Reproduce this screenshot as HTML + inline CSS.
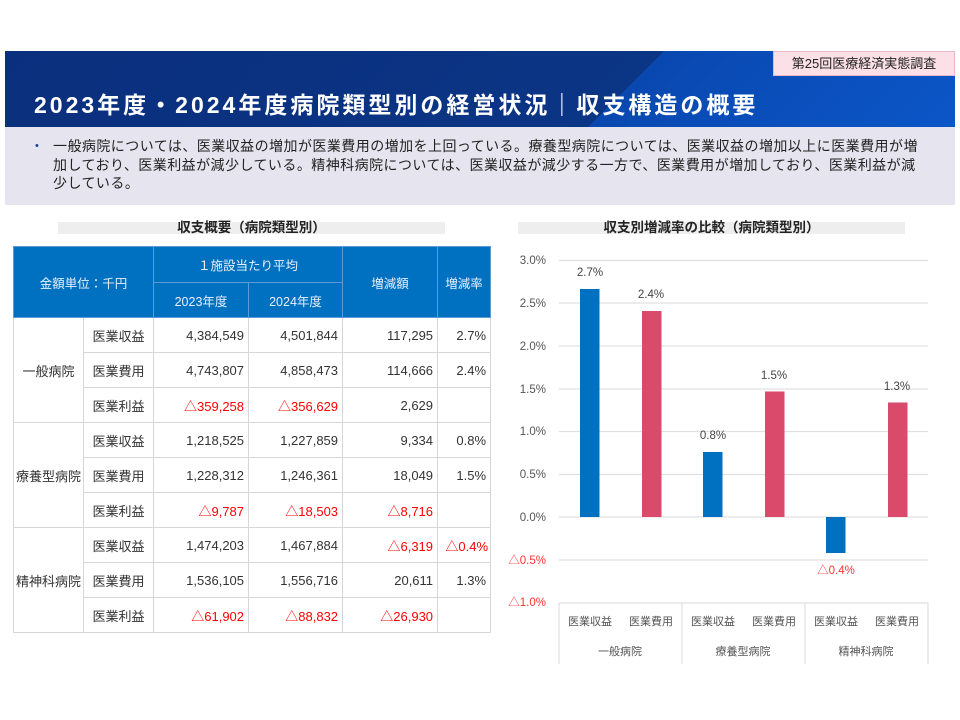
<!DOCTYPE html>
<html><head><meta charset="utf-8"><style>
*{margin:0;padding:0;box-sizing:border-box}
body{width:960px;height:720px;background:#fff;position:relative;overflow:hidden;font-family:"Liberation Sans","Noto Sans CJK JP",sans-serif;color:#333}
.hdr{position:absolute;left:5px;top:51px;width:950px;height:76px;background:linear-gradient(135deg,#0a2f7d 0%,#0b3585 64.2%,#0a48b0 64.3%,#0b56c8 100%)}
.ttl{position:absolute;left:34px;top:86px;font-size:23px;font-weight:bold;color:#fff;letter-spacing:3px;white-space:nowrap}
.badge{position:absolute;left:773px;top:51px;width:182px;height:25px;background:#fbe1e7;border:1px solid #e8b8c4;font-size:13px;color:#222;text-align:center;line-height:24px}
.sum{position:absolute;left:5px;top:127px;width:950px;height:78px;background:#e6e5ef;font-size:14px;letter-spacing:0.45px;line-height:18.5px;color:#222;padding:10px 0 0 48px;white-space:nowrap}
.sum:before{content:"•";position:absolute;left:30px;top:10px;color:#1a3f8f;font-size:11px}
.bar{position:absolute;top:222px;height:12px;background:#eeeeee}
.st{position:absolute;top:216px;font-size:13.5px;font-weight:bold;color:#222;text-align:center;width:387px}
table{position:absolute;left:13px;top:246px;border-collapse:collapse;font-size:13px;table-layout:fixed;width:477px}
td{border:1px solid #d6d6d6;height:35px;padding:0 4px;text-align:right;color:#333;white-space:nowrap}
.h td{background:#0070c0;color:#e8f0ff;border:1px solid #5b9bd5;text-align:center;font-size:12.5px}
.c{text-align:center!important;padding:0!important}
.r{color:#f00}
</style></head><body>
<div class="hdr"></div>
<div class="ttl">2023年度・2024年度病院類型別の経営状況｜収支構造の概要</div>
<div class="badge">第25回医療経済実態調査</div>
<div class="sum">一般病院については、医業収益の増加が医業費用の増加を上回っている。療養型病院については、医業収益の増加以上に医業費用が増<br>加しており、医業利益が減少している。精神科病院については、医業収益が減少する一方で、医業費用が増加しており、医業利益が減<br>少している。</div>
<div class="bar" style="left:58px;width:387px"></div>
<div class="bar" style="left:518px;width:387px"></div>
<div class="st" style="left:58px">収支概要（病院類型別）</div>
<div class="st" style="left:518px">収支別増減率の比較（病院類型別）</div>
<table>
<colgroup><col style="width:70px"><col style="width:70px"><col style="width:95px"><col style="width:94px"><col style="width:95px"><col style="width:53px"></colgroup>
<tr class="h"><td colspan="2" rowspan="2" style="height:70px">金額単位：千円</td><td colspan="2" style="height:36px">１施設当たり平均</td><td rowspan="2">増減額</td><td rowspan="2">増減率</td></tr>
<tr class="h"><td style="height:34px">2023年度</td><td>2024年度</td></tr>
<tr><td rowspan="3" class="c">一般病院</td><td class="c">医業収益</td><td>4,384,549</td><td>4,501,844</td><td>117,295</td><td>2.7%</td></tr>
<tr><td class="c">医業費用</td><td>4,743,807</td><td>4,858,473</td><td>114,666</td><td>2.4%</td></tr>
<tr><td class="c">医業利益</td><td class="r">△359,258</td><td class="r">△356,629</td><td>2,629</td><td></td></tr>
<tr><td rowspan="3" class="c">療養型病院</td><td class="c">医業収益</td><td>1,218,525</td><td>1,227,859</td><td>9,334</td><td>0.8%</td></tr>
<tr><td class="c">医業費用</td><td>1,228,312</td><td>1,246,361</td><td>18,049</td><td>1.5%</td></tr>
<tr><td class="c">医業利益</td><td class="r">△9,787</td><td class="r">△18,503</td><td class="r">△8,716</td><td></td></tr>
<tr><td rowspan="3" class="c">精神科病院</td><td class="c">医業収益</td><td>1,474,203</td><td>1,467,884</td><td class="r">△6,319</td><td class="r" style="padding:0 2px">△0.4%</td></tr>
<tr><td class="c">医業費用</td><td>1,536,105</td><td>1,556,716</td><td>20,611</td><td>1.3%</td></tr>
<tr><td class="c">医業利益</td><td class="r">△61,902</td><td class="r">△88,832</td><td class="r">△26,930</td><td></td></tr>
</table>
<svg style="position:absolute;left:0;top:0" width="960" height="720" font-family="Liberation Sans, Noto Sans CJK JP, sans-serif" font-size="11.5">
<g stroke="#e0e0e0" stroke-width="1.2">
<line x1="559" x2="928" y1="260.5" y2="260.5"/><line x1="559" x2="928" y1="303" y2="303"/><line x1="559" x2="928" y1="346" y2="346"/><line x1="559" x2="928" y1="389" y2="389"/><line x1="559" x2="928" y1="431.5" y2="431.5"/><line x1="559" x2="928" y1="474.5" y2="474.5"/><line x1="559" x2="928" y1="517" y2="517"/><line x1="559" x2="928" y1="560" y2="560"/>
<line x1="559" x2="928" y1="603" y2="603"/>
<line x1="559" x2="559" y1="603" y2="664"/><line x1="682" x2="682" y1="603" y2="664"/><line x1="805" x2="805" y1="603" y2="664"/><line x1="928" x2="928" y1="603" y2="664"/>
</g>
<g text-anchor="end" fill="#555">
<text x="546" y="264">3.0%</text><text x="546" y="307">2.5%</text><text x="546" y="350">2.0%</text><text x="546" y="393">1.5%</text><text x="546" y="435">1.0%</text><text x="546" y="478">0.5%</text><text x="546" y="521">0.0%</text>
<text x="546" y="564" fill="#f33">△0.5%</text><text x="546" y="606" fill="#f33">△1.0%</text>
</g>
<rect x="580" y="289" width="19.5" height="228" fill="#0070c0"/>
<rect x="642" y="311" width="19.5" height="206" fill="#d94a6b"/>
<rect x="703" y="452" width="19.5" height="65" fill="#0070c0"/>
<rect x="765" y="391.5" width="19.5" height="125.5" fill="#d94a6b"/>
<rect x="826" y="517" width="19.5" height="36" fill="#0070c0"/>
<rect x="888" y="402.5" width="19.5" height="114.5" fill="#d94a6b"/>
<g text-anchor="middle" fill="#444">
<text x="590" y="276">2.7%</text><text x="651" y="298">2.4%</text><text x="713" y="439">0.8%</text><text x="774" y="379">1.5%</text><text x="836" y="574" fill="#f33">△0.4%</text><text x="897" y="390">1.3%</text>
</g>
<g text-anchor="middle" fill="#555" font-size="11">
<text x="590" y="625">医業収益</text><text x="651" y="625">医業費用</text><text x="713" y="625">医業収益</text><text x="774" y="625">医業費用</text><text x="836" y="625">医業収益</text><text x="897" y="625">医業費用</text>
<text x="620" y="655">一般病院</text><text x="743" y="655">療養型病院</text><text x="866" y="655">精神科病院</text>
</g>
</svg>
</body></html>
